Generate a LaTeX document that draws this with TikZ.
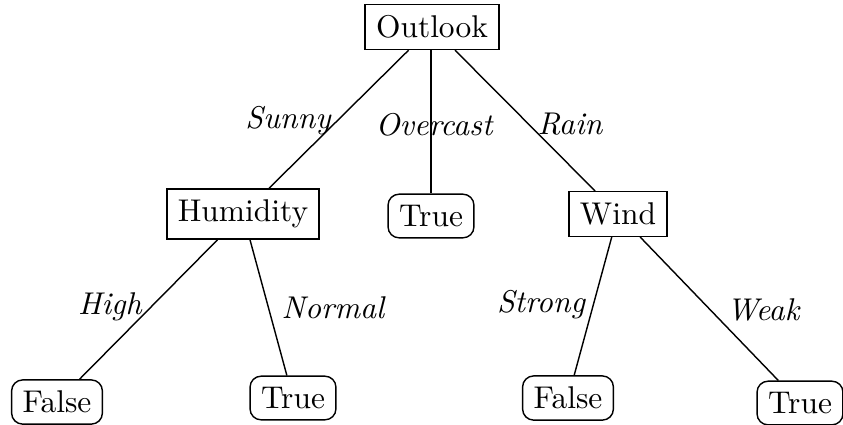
\documentclass[tikz,border=0pt]{standalone}
\begin{document}
\begin{tikzpicture}[x=0.318pt,y=-0.318pt,
  inner/.style={draw,rectangle,line width=0.45pt,inner sep=3.5pt},
  leaf/.style={draw,rectangle,rounded corners=3.5pt,line width=0.45pt,inner sep=3.5pt},
  edgelbl/.style={font=\itshape,inner sep=1pt},
  every path/.style={line width=0.45pt}]
\useasboundingbox (0,0) rectangle (843,424);
\node[inner] (o) at (432,27) {Outlook};
\node[inner] (h) at (243,214) {Humidity};
\node[leaf]  (t1) at (431,216) {True};
\node[inner] (w) at (618,214) {Wind};
\node[leaf]  (f1) at (57,402) {False};
\node[leaf]  (t2) at (293,398) {True};
\node[leaf]  (f2) at (568,398) {False};
\node[leaf]  (t3) at (800,403) {True};
\draw (o) -- (h);
\draw (o.south -| t1) -- (t1);
\draw (o) -- (w);
\draw (h) -- (f1);
\draw (h) -- (t2);
\draw (w) -- (f2);
\draw (w) -- (t3);
\node[edgelbl] (ls) at (288,121) {Sunny};
\node[edgelbl] (lo) at (434,125) {Overcast};
\node[edgelbl] (lr) at (570,124) {Rain};
\node[edgelbl] (lh) at (110,307) {High};
\node[edgelbl] (ln) at (333,308) {Normal};
\node[edgelbl] (lst) at (541,305) {Strong};
\node[edgelbl] (lw) at (763,310) {Weak};
\end{tikzpicture}
\end{document}
